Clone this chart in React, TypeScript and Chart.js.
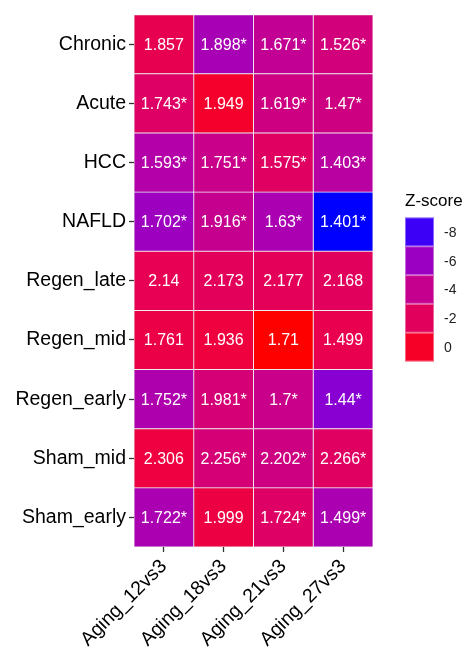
import React, { useEffect, useRef } from "react";
import { Chart, registerables } from "chart.js";

Chart.register(...registerables);

const rows = ["Chronic", "Acute", "HCC", "NAFLD", "Regen_late", "Regen_mid", "Regen_early", "Sham_mid", "Sham_early"];
const cols = ["Aging_12vs3", "Aging_18vs3", "Aging_21vs3", "Aging_27vs3"];

// Displayed values (per column, rows top to bottom)
const val12 = [1.857, 1.743, 1.593, 1.702, 2.14, 1.761, 1.752, 2.306, 1.722];
const val18 = [1.898, 1.949, 1.751, 1.916, 2.173, 1.936, 1.981, 2.256, 1.999];
const val21 = [1.671, 1.619, 1.575, 1.63, 2.177, 1.71, 1.7, 2.202, 1.724];
const val27 = [1.526, 1.47, 1.403, 1.401, 2.168, 1.499, 1.44, 2.266, 1.499];

// Significance marks
const sig12 = [false, true, true, true, false, false, true, false, true];
const sig18 = [true, false, true, true, false, false, true, true, false];
const sig21 = [true, true, true, true, false, false, true, true, true];
const sig27 = [true, true, true, true, false, false, true, true, true];

// Z-scores (fill colour)
const z12 = [-1.5, -2.3, -5.0, -5.9, -1.6, -1.2, -5.2, -0.9, -5.4];
const z18 = [-5.5, -0.2, -3.8, -4.0, -1.9, -0.8, -3.0, -3.0, -1.0];
const z21 = [-4.2, -3.5, -2.2, -5.4, -1.8, 0.8, -3.8, -3.5, -2.3];
const z27 = [-3.2, -3.5, -4.7, -8.3, -2.0, -1.4, -6.6, -2.2, -5.4];

const legendTicks = [-8, -6, -4, -2, 0];

const values = [val12, val18, val21, val27];
const sigs = [sig12, sig18, sig21, sig27];
const zs = [z12, z18, z21, z27];

const FONT = "'Liberation Sans', Arial, Helvetica, sans-serif";

function toLin(c: number) {
  c /= 255;
  return c <= 0.04045 ? c / 12.92 : Math.pow((c + 0.055) / 1.055, 2.4);
}
function fromLin(v: number) {
  v = v <= 0.0031308 ? 12.92 * v : 1.055 * Math.pow(v, 1 / 2.4) - 0.055;
  return Math.max(0, Math.min(255, Math.round(v * 255)));
}
const Xn = 0.95047, Yn = 1, Zn = 1.08883;
function f(t: number) {
  return t > 0.008856 ? Math.cbrt(t) : 7.787 * t + 16 / 116;
}
function finv(t: number) {
  const t3 = t * t * t;
  return t3 > 0.008856 ? t3 : (t - 16 / 116) / 7.787;
}
function rgbToLab(r: number, g: number, b: number) {
  const R = toLin(r), G = toLin(g), B = toLin(b);
  const X = 0.4124564 * R + 0.3575761 * G + 0.1804375 * B;
  const Y = 0.2126729 * R + 0.7151522 * G + 0.072175 * B;
  const Z = 0.0193339 * R + 0.119192 * G + 0.9503041 * B;
  const fx = f(X / Xn), fy = f(Y / Yn), fz = f(Z / Zn);
  return [116 * fy - 16, 500 * (fx - fy), 200 * (fy - fz)];
}
function labToRgb(L: number, a: number, bb: number) {
  const fy = (L + 16) / 116;
  const fx = fy + a / 500;
  const fz = fy - bb / 200;
  const X = finv(fx) * Xn, Y = finv(fy) * Yn, Z = finv(fz) * Zn;
  const r = 3.2404542 * X - 1.5371385 * Y - 0.4985314 * Z;
  const g = -0.969266 * X + 1.8760108 * Y + 0.041556 * Z;
  const b = 0.0556434 * X - 0.2040259 * Y + 1.0572252 * Z;
  return `rgb(${fromLin(r)},${fromLin(g)},${fromLin(b)})`;
}
const LOW = rgbToLab(0, 0, 255);
const HIGH = rgbToLab(255, 0, 0);
const allZ = zs.flat();
const zMin = Math.min(...allZ);
const zMax = Math.max(...allZ);
function zColor(z: number) {
  const t = Math.max(0, Math.min(1, (z - zMin) / (zMax - zMin)));
  return labToRgb(
    LOW[0] + (HIGH[0] - LOW[0]) * t,
    LOW[1] + (HIGH[1] - LOW[1]) * t,
    LOW[2] + (HIGH[2] - LOW[2]) * t
  );
}

const cellText = {
  id: "cellText",
  afterDatasetsDraw(chart: any) {
    const ctx = chart.ctx;
    ctx.save();
    ctx.fillStyle = "#ffffff";
    ctx.font = `16px ${FONT}`;
    ctx.textAlign = "center";
    ctx.textBaseline = "middle";
    chart.data.datasets.forEach((_: any, c: number) => {
      const meta = chart.getDatasetMeta(c);
      meta.data.forEach((el: any, r: number) => {
        const cx = (el.x + el.base) / 2;
        const txt = String(values[c][r]) + (sigs[c][r] ? "*" : "");
        ctx.fillText(txt, cx, el.y + 1);
      });
    });
    ctx.restore();
  },
};

const zLegend = {
  id: "zLegend",
  afterDraw(chart: any) {
    const ctx = chart.ctx;
    ctx.save();
    ctx.fillStyle = "#000";
    ctx.font = `17px ${FONT}`;
    ctx.textAlign = "left";
    ctx.textBaseline = "alphabetic";
    ctx.fillText("Z-score", 405, 206);
    const x0 = 405, w = 29, h = 28.8;
    let y = 217.5;
    [...legendTicks].sort((a, b) => a - b).forEach((t) => {
      ctx.fillStyle = zColor(t);
      ctx.fillRect(x0, y, w, h);
      ctx.strokeStyle = "rgba(255,255,255,0.4)";
      ctx.lineWidth = 1;
      ctx.strokeRect(x0 + 0.5, y + 0.5, w - 1, h - 1);
      ctx.fillStyle = "#222";
      ctx.font = `14px ${FONT}`;
      ctx.textBaseline = "middle";
      ctx.fillText(String(t), 444, y + h / 2 + 1);
      y += h;
    });
    ctx.restore();
  },
};

export default function App() {
  const ref = useRef<HTMLCanvasElement | null>(null);
  useEffect(() => {
    document.body.style.margin = "0";
    const canvas = ref.current!;
    const datasets = cols.map((name, c) => ({
      label: name,
      data: rows.map(() => [c - 0.5, c + 0.5]),
      backgroundColor: rows.map((_, r) => zColor(zs[c][r])),
      borderColor: "#ececec",
      borderWidth: 0.8,
      borderSkipped: false,
      barPercentage: 1,
      categoryPercentage: 1,
      grouped: false,
    }));
    const chart = new Chart(canvas, {
      type: "bar",
      data: { labels: rows, datasets: datasets as any },
      options: {
        indexAxis: "y",
        responsive: false,
        animation: false,
        layout: { padding: { top: 10, right: 96, left: 0, bottom: 0 } },
        plugins: { legend: { display: false }, tooltip: { enabled: false } },
        scales: {
          x: {
            type: "linear",
            position: "bottom",
            min: -0.5,
            max: 3.5,
            afterBuildTicks: (axis: any) => {
              axis.ticks = cols.map((_, i) => ({ value: i }));
            },
            afterFit: (scale: any) => {
              scale.height = 101;
            },
            grid: { display: true, drawOnChartArea: false, drawTicks: true, tickLength: 5, tickWidth: 1.3, tickColor: "#333" },
            border: { display: false },
            ticks: {
              autoSkip: false,
              minRotation: 45,
              maxRotation: 45,
              padding: 3,
              color: "#000",
              font: { size: 19.5, family: FONT },
              callback: (v: any) => cols[v as number] ?? "",
            },
          },
          y: {
            type: "category",
            afterFit: (scale: any) => {
              scale.width = 134;
            },
            grid: { display: true, offset: false, drawOnChartArea: false, drawTicks: true, tickLength: 5, tickWidth: 1.3, tickColor: "#333" },
            border: { display: false },
            ticks: {
              padding: 3,
              color: "#000",
              font: { size: 19.5, family: FONT },
            },
          },
        },
      },
      plugins: [cellText, zLegend],
    });
    return () => chart.destroy();
  }, []);
  return <canvas ref={ref} width={469} height={648} style={{ display: "block" }} />;
}
